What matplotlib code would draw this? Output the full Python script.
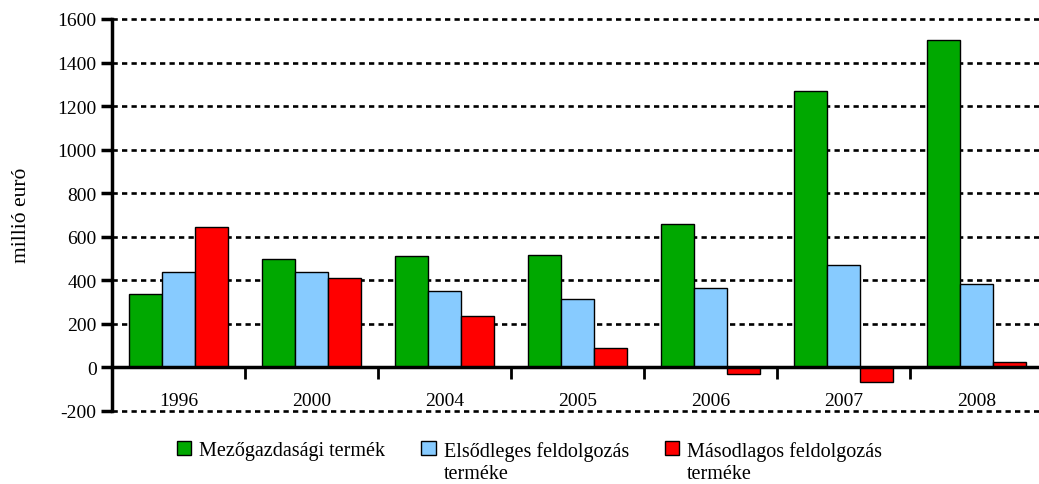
import matplotlib
matplotlib.use("Agg")
import matplotlib.pyplot as plt
import numpy as np
from matplotlib.patches import Patch
from matplotlib.ticker import FixedLocator, NullFormatter

years = ["1996", "2000", "2004", "2005", "2006", "2007", "2008"]
mezogazdasagi = [338, 500, 514, 518, 660, 1270, 1504]
elsodleges = [440, 436, 349, 312, 367, 471, 385]
masodlagos = [643, 413, 238, 87, -32, -69, 27]
series_names = ["Mezőgazdasági termék", "Elsődleges feldolgozás\nterméke", "Másodlagos feldolgozás\nterméke"]
colors = ["#00A800", "#87CBFF", "#FF0000"]
yticks = [-200, 0, 200, 400, 600, 800, 1000, 1200, 1400, 1600]

plt.rcParams['font.family'] = ['Liberation Serif', 'DejaVu Serif']

fig = plt.figure(figsize=(10.39, 4.85), dpi=100)
ax = fig.add_axes([112/1039, 1 - 412/485, (1043-112)/1039, (412-20)/485])

x = np.arange(len(years))
w = 0.25
for i, (vals, c) in enumerate(zip([mezogazdasagi, elsodleges, masodlagos], colors)):
    ax.bar(x + (i-1)*w, vals, width=w, color=c, edgecolor="black", linewidth=1.0, zorder=3)

ax.set_xlim(-0.5, len(years)-0.5)
ax.set_ylim(-200, 1600)
ax.set_yticks(yticks)
ax.set_yticklabels([str(v) for v in yticks])

for v in yticks:
    if v != 0:
        ax.axhline(v, color="black", linestyle=(0, (2.0, 1.6)), linewidth=1.9,
                   zorder=1, clip_on=False, dash_capstyle="butt")

for s in ["top", "right"]:
    ax.spines[s].set_visible(False)
ax.spines["bottom"].set_position(("data", 0))
ax.spines["bottom"].set_linewidth(2.5)
ax.spines["left"].set_linewidth(2.5)
ax.spines["bottom"].set_zorder(4)

ax.set_xticks(x)
ax.set_xticklabels(years)
ax.xaxis.set_minor_locator(FixedLocator(np.arange(0.5, len(years)-0.5, 1)))
ax.xaxis.set_minor_formatter(NullFormatter())
ax.tick_params(axis="x", which="major", length=0, pad=18, labelsize=14)
ax.tick_params(axis="x", which="minor", length=8.5, width=2, direction="out")
ax.tick_params(axis="y", which="major", length=8, width=2.5, direction="out", labelsize=14, pad=3)

fig.text(22/1039, 1 - 215/485, "millió euró", rotation=90, va="center", ha="center", fontsize=15.5)

handles = [Patch(facecolor=c, edgecolor="black", linewidth=1.0) for c in colors]
leg = fig.legend(handles, series_names, loc="upper left", bbox_to_anchor=(177/1039, 1 - 442/485),
                 ncol=3, frameon=False, fontsize=14.5, handlelength=0.7, handleheight=0.7,
                 handletextpad=0.4, columnspacing=1.8, borderaxespad=0, borderpad=0,
                 labelspacing=0.1)
for t in leg.get_texts():
    t.set_linespacing(1.2)
leg._legend_handle_box.align = "top"
for col in leg._legend_handle_box.get_children():
    col.align = "left"
    for row in col.get_children():
        row.align = "top"

fig.savefig("out.png", dpi=100)
